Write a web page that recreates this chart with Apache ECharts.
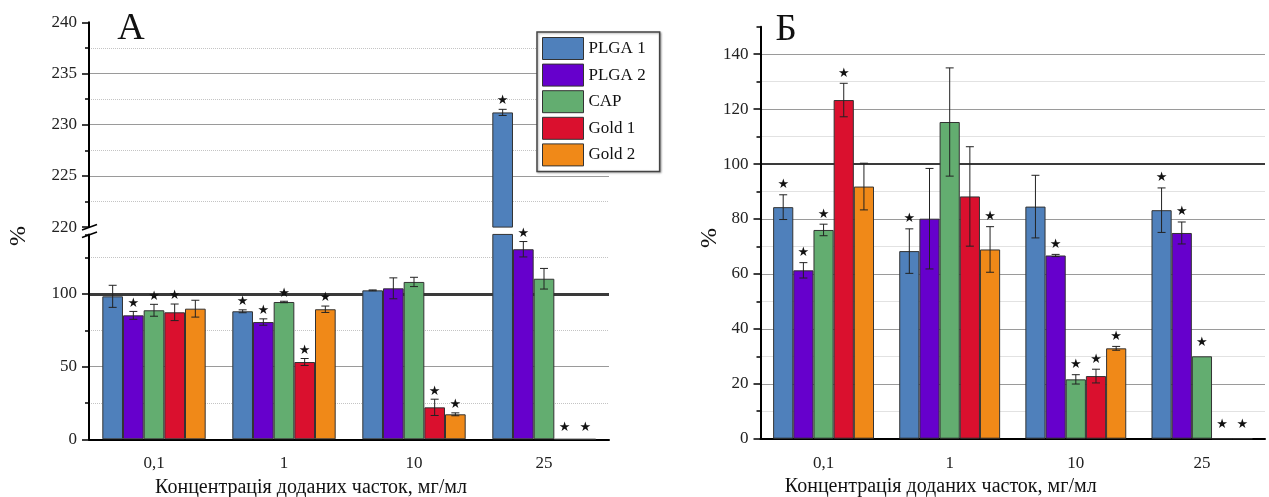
<!DOCTYPE html>
<html>
<head>
<meta charset="utf-8">
<script src="https://cdn.jsdelivr.net/npm/echarts@6/dist/echarts.min.js"></script>
<style>
  html, body { margin: 0; padding: 0; background: #fff; }
  #chart { width: 1269px; height: 497px; }
</style>
</head>
<body>
<div id="chart"></div>
<script>
  const categories = ['0,1', '1', '10', '25'];
  const seriesNames = ['PLGA 1', 'PLGA 2', 'CAP', 'Gold 1', 'Gold 2'];

  // панель А
  const aPlga1 = [98.4, 88.1, 102.5, 231.2];
  const aPlga2 = [85.3, 80.7, 103.9, 130.8];
  const aCap = [88.8, 94.5, 108.3, 110.5];
  const aGold1 = [87.4, 53.2, 22.0, 0];
  const aGold2 = [89.9, 89.5, 17.2, 0];
  const aPlga1Err = [7.6, 1.0, 0.3, 0.3];
  const aPlga2Err = [2.7, 2.2, 7.2, 5.3];
  const aCapErr = [4.1, 0.5, 3.2, 7.1];
  const aGold1Err = [5.7, 2.4, 5.6, 0];
  const aGold2Err = [5.8, 2.2, 1.0, 0];
  const aPlga1Star = [0, 1, 0, 1];
  const aPlga2Star = [1, 1, 0, 1];
  const aCapStar = [1, 1, 0, 0];
  const aGold1Star = [1, 1, 1, 1];
  const aGold2Star = [0, 1, 1, 1];

  // панель Б
  const bPlga1 = [84.3, 68.3, 84.5, 83.2];
  const bPlga2 = [61.3, 80.1, 66.7, 74.9];
  const bCap = [76.0, 115.3, 21.6, 30.0];
  const bGold1 = [123.3, 88.2, 22.8, 0];
  const bGold2 = [91.8, 68.9, 32.9, 0];
  const bPlga1Err = [4.5, 8.1, 11.4, 8.1];
  const bPlga2Err = [2.8, 18.3, 0.4, 4.0];
  const bCapErr = [2.1, 19.7, 1.7, 0];
  const bGold1Err = [6.1, 18.1, 2.5, 0];
  const bGold2Err = [8.5, 8.3, 0.7, 0];
  const bPlga1Star = [1, 1, 0, 1];
  const bPlga2Star = [1, 0, 1, 1];
  const bCapStar = [1, 0, 1, 1];
  const bGold1Star = [1, 0, 1, 1];
  const bGold2Star = [0, 1, 1, 1];

  const aValues = [aPlga1, aPlga2, aCap, aGold1, aGold2];
  const aErrors = [aPlga1Err, aPlga2Err, aCapErr, aGold1Err, aGold2Err];
  const aStars = [aPlga1Star, aPlga2Star, aCapStar, aGold1Star, aGold2Star];
  const bValues = [bPlga1, bPlga2, bCap, bGold1, bGold2];
  const bErrors = [bPlga1Err, bPlga2Err, bCapErr, bGold1Err, bGold2Err];
  const bStars = [bPlga1Star, bPlga2Star, bCapStar, bGold1Star, bGold2Star];

  const colors = ['#4f80bb', '#6600cc', '#63ad70', '#da102e', '#f08918'];
  const serif = 'Liberation Serif';
  const aLowMax = 141;
  const aGap = 0.205;
  const bGap = 0.2;

  function errData(values, errors, stars, keep) {
    const out = [];
    values.forEach((arr, k) => {
      arr.forEach((v, i) => {
        if (keep(v)) out.push([i, v, errors[k][i], k, stars[k][i]]);
      });
    });
    return out;
  }

  function makeRender(gap, starOff, zeroOff) {
    return function (params, api) {
      const cat = api.value(0), v = api.value(1), e = api.value(2), k = api.value(3), star = api.value(4);
      const bw = api.size([1, 0])[0] * (1 - gap) / 5;
      const p = api.coord([cat, v]);
      const x = p[0] + (k - 2) * bw;
      const children = [];
      let topY = p[1];
      const st = { stroke: '#222', lineWidth: 1 };
      if (e > 0) {
        const hi = api.coord([cat, v + e])[1];
        const lo = api.coord([cat, v - e])[1];
        children.push({ type: 'line', shape: { x1: x, y1: hi, x2: x, y2: lo }, style: st });
        children.push({ type: 'line', shape: { x1: x - 4, y1: hi, x2: x + 4, y2: hi }, style: st });
        children.push({ type: 'line', shape: { x1: x - 4, y1: lo, x2: x + 4, y2: lo }, style: st });
        topY = hi;
      }
      if (star) {
        children.push({
          type: 'text', x: x, y: topY - (e > 0 ? starOff : zeroOff),
          style: { text: '★', fontSize: 13, fontFamily: 'DejaVu Sans', fill: '#111', align: 'center', verticalAlign: 'middle' }
        });
      }
      return { type: 'group', children: children };
    };
  }

  function barSeries(name, k, data, xi, yi, gap) {
    return {
      name: name, type: 'bar', xAxisIndex: xi, yAxisIndex: yi,
      data: data, barGap: '0%', barCategoryGap: (gap * 100) + '%',
      itemStyle: { color: colors[k], borderColor: '#333', borderWidth: 1 }
    };
  }

  const labelStyle = { fontFamily: serif, fontSize: 17, color: '#222' };
  const nameStyle = { fontFamily: serif, fontSize: 20, color: '#111' };

  function mainX(grid, nameShift) {
    return {
      type: 'category', gridIndex: grid, data: categories, position: 'bottom',
      axisLine: { lineStyle: { color: '#000', width: 2 } },
      axisTick: { alignWithLabel: true, length: 9, lineStyle: { color: '#000', width: 1.5 } },
      axisLabel: Object.assign({ margin: 16 }, labelStyle),
      name: 'Концентрація доданих часток, мг/мл', nameLocation: 'middle', nameGap: 38,
      nameTextStyle: Object.assign({ padding: [0, nameShift * 2, 0, 0] }, nameStyle)
    };
  }
  function boundX(grid) {
    return {
      type: 'category', gridIndex: grid, data: categories, position: 'bottom',
      axisLine: { show: false }, axisLabel: { show: false },
      axisTick: { length: 5, lineStyle: { color: '#000', width: 1.5 } }
    };
  }
  function majorY(grid, min, max, step, hideMin, showMax) {
    return {
      type: 'value', gridIndex: grid, position: 'left', min: min, max: max, interval: step,
      axisLine: { show: true, lineStyle: { color: '#000', width: 2 } },
      axisTick: { show: true, length: 7, lineStyle: { color: '#000', width: 1.5 } },
      axisLabel: Object.assign({ margin: 12, showMaxLabel: showMax }, labelStyle),
      splitLine: { show: true, showMinLine: !hideMin, showMaxLine: false, lineStyle: { color: '#9a9a9a', width: 1 } }
    };
  }
  function minorY(grid, min, max, step) {
    return {
      type: 'value', gridIndex: grid, position: 'left', min: min, max: max, interval: step,
      axisLine: { show: false }, axisLabel: { show: false },
      axisTick: { show: true, length: 4, lineStyle: { color: '#000', width: 1.5 } },
      splitLine: { show: true, showMaxLine: false, lineStyle: { color: ['rgba(0,0,0,0)', '#c4c4c4'], type: 'dotted', width: 1 } }
    };
  }
  function refY(grid, max, w) {
    // линия 100 %
    return {
      type: 'value', gridIndex: grid, position: 'left', min: 0, max: max, interval: 100,
      axisLine: { show: false }, axisLabel: { show: false }, axisTick: { show: false },
      splitLine: { show: true, showMaxLine: false, lineStyle: { color: ['rgba(0,0,0,0)', '#3a3a3a'], width: w } }
    };
  }

  const series = [];
  seriesNames.forEach((n, k) => {
    series.push(barSeries(n, k, aValues[k].map(v => v > aLowMax ? v : '-'), 0, 0, aGap));
  });
  seriesNames.forEach((n, k) => {
    series.push(barSeries(n, k, aValues[k], 1, 2, aGap));
  });
  seriesNames.forEach((n, k) => {
    series.push(barSeries(n, k, bValues[k], 3, 4, bGap));
  });
  series.push({
    name: 'errA1', type: 'custom', xAxisIndex: 0, yAxisIndex: 0, z: 4,
    encode: { x: 0, y: 1 }, renderItem: makeRender(aGap, 9, 12),
    data: errData(aValues, aErrors, aStars, v => v > aLowMax)
  });
  series.push({
    name: 'errA2', type: 'custom', xAxisIndex: 1, yAxisIndex: 2, z: 4,
    encode: { x: 0, y: 1 }, renderItem: makeRender(aGap, 8, 12),
    data: errData(aValues, aErrors, aStars, v => v <= aLowMax)
  });
  series.push({
    name: 'errB', type: 'custom', xAxisIndex: 3, yAxisIndex: 4, z: 4,
    encode: { x: 0, y: 1 }, renderItem: makeRender(bGap, 10, 14),
    data: errData(bValues, bErrors, bStars, v => true)
  });

  const myChart = echarts.init(document.getElementById('chart'));
  const options = {
    animation: false,
    backgroundColor: '#fff',
    grid: [
      { left: 89, top: 22.3, width: 520, height: 204.8, outerBoundsMode: 'none' },
      { left: 89, top: 439.3 - aLowMax * 1.453, width: 520, height: aLowMax * 1.453, outerBoundsMode: 'none' },
      { left: 760.5, top: 26.7, width: 504.5, height: 412, outerBoundsMode: 'none' }
    ],
    xAxis: [
      { type: 'category', gridIndex: 0, data: categories, position: 'bottom', show: false },
      mainX(1, 38),
      boundX(1),
      mainX(2, 72),
      boundX(2)
    ],
    yAxis: [
      majorY(0, 220, 240, 5, true, true),
      minorY(0, 220, 240, 2.5),
      majorY(1, 0, aLowMax, 50, false, false),
      minorY(1, 0, aLowMax, 25),
      majorY(2, 0, 150, 20, false, false),
      minorY(2, 0, 150, 10),
      refY(1, aLowMax, 3),
      refY(2, 150, 2)
    ],
    legend: {
      data: seriesNames, orient: 'vertical', left: 537, top: 32,
      itemWidth: 41, itemHeight: 22, itemGap: 3.6, icon: 'rect',
      padding: [5, 14, 5, 5],
      backgroundColor: '#fff', borderColor: '#444', borderWidth: 1.5,
      shadowColor: 'rgba(0,0,0,0.3)', shadowBlur: 2, shadowOffsetX: 1, shadowOffsetY: 1,
      itemStyle: { borderColor: '#333', borderWidth: 1 },
      textStyle: { fontFamily: serif, fontSize: 17, color: '#111' }
    },
    graphic: [
      { type: 'text', x: 131, y: 29, style: { text: 'А', fontFamily: serif, fontSize: 38, fill: '#111', align: 'center', verticalAlign: 'middle' } },
      { type: 'text', x: 786, y: 30, style: { text: 'Б', fontFamily: serif, fontSize: 37, fill: '#111', align: 'center', verticalAlign: 'middle' } },
      { type: 'text', x: 19, y: 236, rotation: Math.PI / 2, style: { text: '%', fontFamily: serif, fontSize: 24, fill: '#111', align: 'center', verticalAlign: 'middle' } },
      { type: 'text', x: 710, y: 238, rotation: Math.PI / 2, style: { text: '%', fontFamily: serif, fontSize: 24, fill: '#111', align: 'center', verticalAlign: 'middle' } },
      { type: 'line', shape: { x1: 82, y1: 230, x2: 97, y2: 224.5 }, style: { stroke: '#000', lineWidth: 1.5 } },
      { type: 'line', shape: { x1: 82, y1: 237.5, x2: 97, y2: 232 }, style: { stroke: '#000', lineWidth: 1.5 } }
    ],
    series: series
  };
  myChart.setOption(options);
</script>
</body>
</html>
